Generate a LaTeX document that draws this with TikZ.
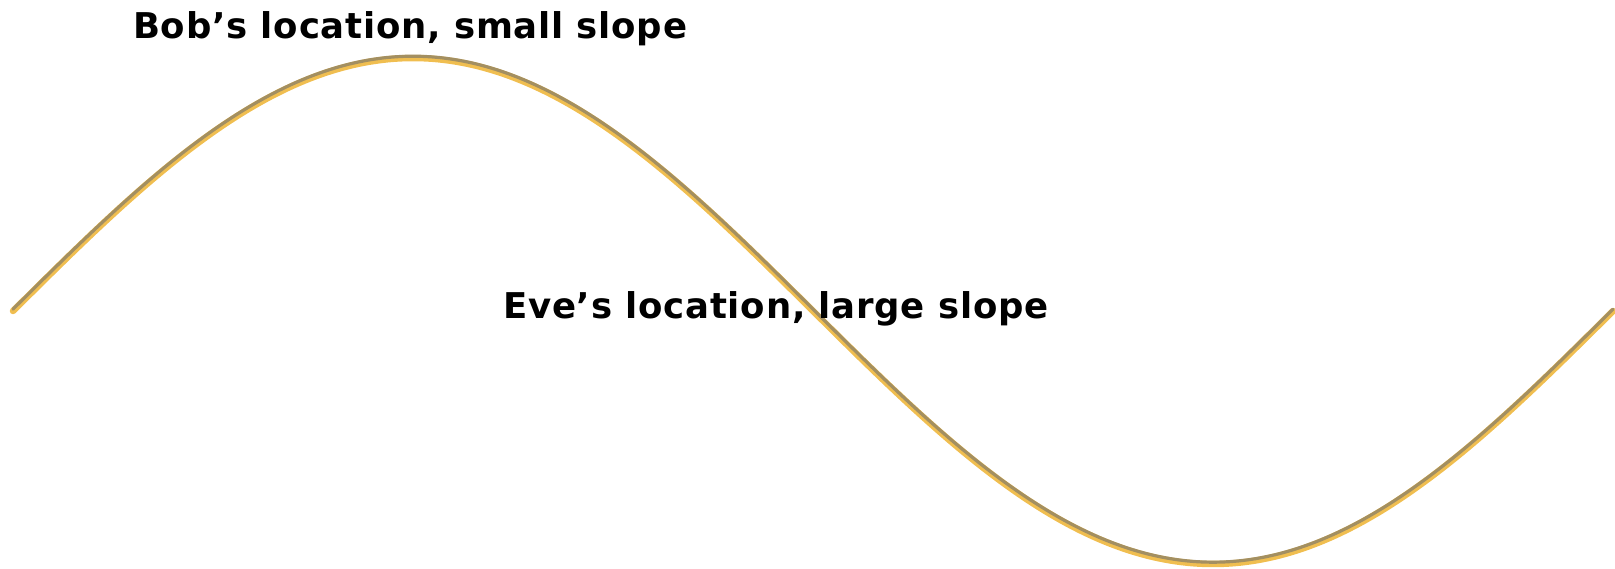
\documentclass[tikz,border=0pt]{standalone}
\usepackage{fontspec}
\setmainfont{DejaVu Sans}[LetterSpace=2.2]
\usepackage{xcolor}
\usepackage{tikz}
\usetikzlibrary{
  calc,
  positioning
}
\definecolor{WaveGold}{RGB}{240,190,80}
\definecolor{WaveShade}{RGB}{150,135,100}

\begin{document}
\begin{tikzpicture}[
  x=1pt, y=-1pt,
  font=\bfseries\fontsize{35.5}{40}\selectfont,
  lbl/.style={anchor=base west, inner sep=0pt},
  wave/.style={line width=#1, line cap=round, line join=round},
]
  \useasboundingbox (0,0) rectangle (1615,569);

  % the wave, gold under a darker shade
  \draw[wave=6.5pt, WaveGold]
    plot[domain=13:1613, samples=200, smooth] (\x, {311-253*sin((\x-13)/1600*360)});
  \draw[wave=3.2pt, WaveShade, opacity=0.85]
    plot[domain=13:1613, samples=200, smooth] (\x, {309.2-253*sin((\x-13)/1600*360)});

  \node[lbl] (bob) at (133,39) {Bob’s location, small slope};
  \node[lbl] (eve) at (503,319) {Eve’s location, large slope};
\end{tikzpicture}
\end{document}
